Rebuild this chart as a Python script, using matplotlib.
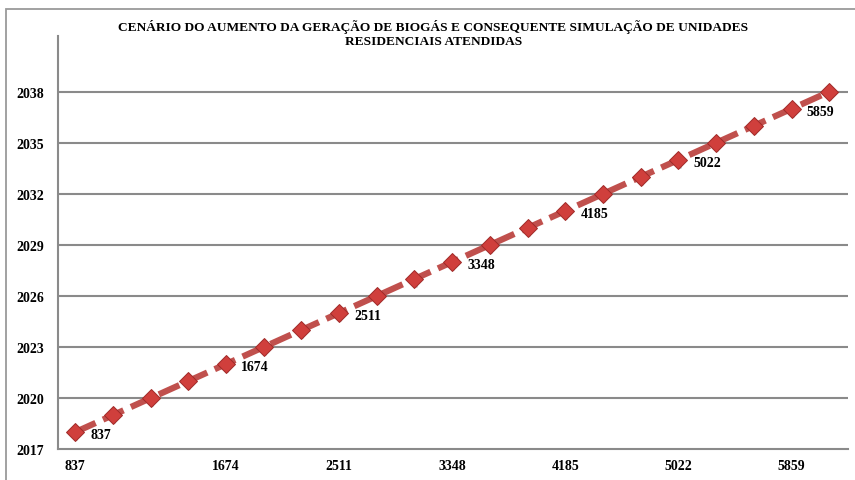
import matplotlib.pyplot as plt
from matplotlib.patches import Rectangle

# Data
years = [2018, 2019, 2020, 2021, 2022, 2023, 2024, 2025, 2026, 2027, 2028,
         2029, 2030, 2031, 2032, 2033, 2034, 2035, 2036, 2037, 2038]
unit_labels = ['837', '', '', '', '1674', '', '', '2511', '', '', '3348',
               '', '', '4185', '', '', '5022', '', '', '5859', '']
y_ticks = [2017, 2020, 2023, 2026, 2029, 2032, 2035, 2038]

title = ('CENÁRIO DO AUMENTO DA GERAÇÃO DE BIOGÁS E CONSEQUENTE SIMULAÇÃO DE UNIDADES\n'
         'RESIDENCIAIS ATENDIDAS')

plt.rcParams['font.family'] = ['Liberation Serif', 'DejaVu Serif']
plt.rcParams['font.weight'] = 'bold'

fig = plt.figure(figsize=(8.55, 4.81), dpi=100)
ax = fig.add_axes([0.068, 0.064, 0.924, 0.86])

# outer chart border
fig.patches.append(Rectangle((6 / 855, -0.1), 1.2, (481 - 10) / 481 + 0.1,
                             transform=fig.transFigure, fill=False,
                             edgecolor='#9a9a9a', linewidth=1.3))

x = list(range(len(years)))

# grid lines
for yt in y_ticks[1:]:
    ax.axhline(yt, color='#8a8a8a', linewidth=1.5, zorder=1)

# faint shadow below markers
ax.plot([i + 0.03 for i in x], [y - 0.4 for y in years], linestyle='none',
        marker='.', markersize=2, color='#c8c8c8', zorder=2)

ax.plot(x, years, color='#c0504d', linewidth=4.5, linestyle=(0, (3.6, 1.3)),
        zorder=3, solid_capstyle='butt')
ax.plot(x, years, linestyle='none', marker='D', markersize=9.5,
        markerfacecolor='#d03f3c', markeredgecolor='#a02a28',
        markeredgewidth=0.7, zorder=4)

for i, lab in enumerate(unit_labels):
    if lab:
        ax.annotate(lab, (i, years[i]), xytext=(11, -2),
                    textcoords='offset points', ha='left', va='center',
                    fontsize=10, fontweight='bold', color='black')

ax.set_xlim(-0.45, 20.5)
ax.set_ylim(2017, 2041.3)
ax.set_yticks(y_ticks)
ax.set_yticklabels([str(v) for v in y_ticks])
ax.set_xticks(x)
ax.set_xticklabels(unit_labels)
ax.tick_params(length=0, labelsize=10, pad=7)
ax.tick_params(axis='y', pad=10)

for side in ['top', 'right']:
    ax.spines[side].set_visible(False)
for side in ['left', 'bottom']:
    ax.spines[side].set_color('#8a8a8a')
    ax.spines[side].set_linewidth(1.5)

fig.text(0.507, 0.9, title, ha='center', va='bottom', fontsize=9.6,
         fontweight='bold', linespacing=1.25)

fig.savefig('out.png', dpi=100)
